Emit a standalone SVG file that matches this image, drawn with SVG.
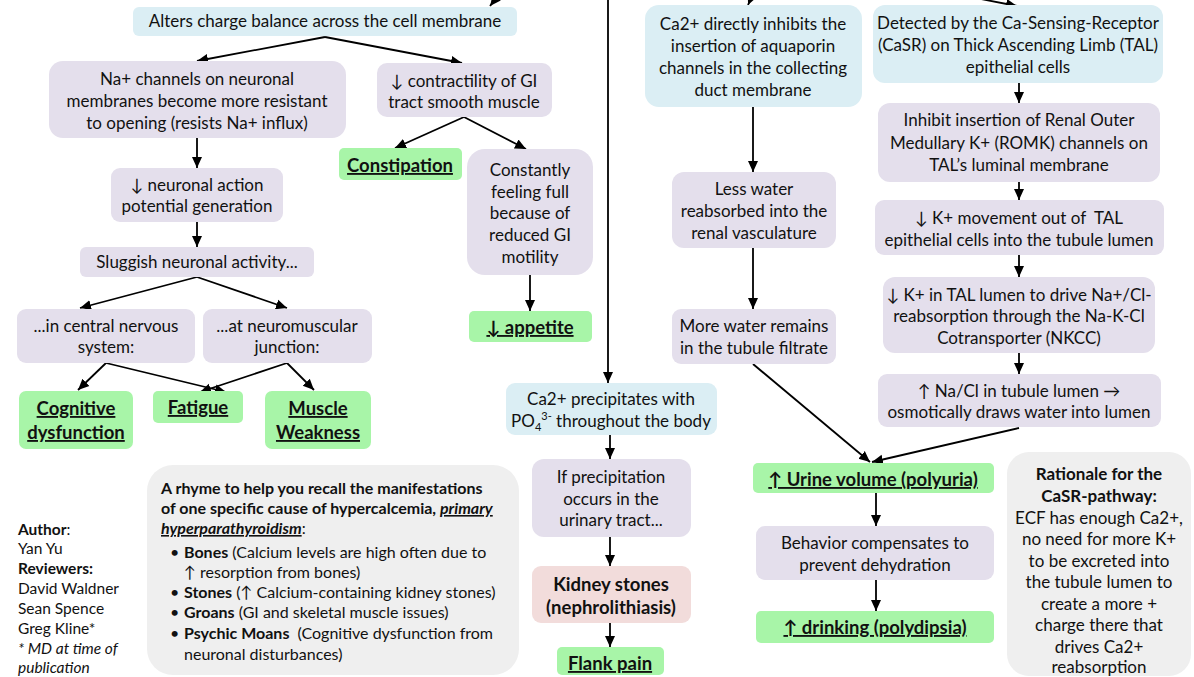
<svg xmlns="http://www.w3.org/2000/svg" width="1194" height="677" viewBox="0 0 1194 677">
<defs>
<marker id="ah" markerUnits="userSpaceOnUse" markerWidth="12" markerHeight="12" viewBox="0 0 12 12" refX="11" refY="6" orient="auto">
<path d="M0,1 L11,6 L0,11 Z" fill="#000"/>
</marker>
<style>
.blue{fill:#dbeef4}
.lav{fill:#e4dfec}
.grn{fill:#a8f5a8}
.pink{fill:#f2dcdb}
.gry{fill:#efefef}
text{font-family:Lato,"Liberation Sans",sans-serif;font-size:17px;fill:#111}
.c{text-anchor:middle}
.b{font-weight:bold;font-size:18.5px}
.u{text-decoration:underline}
.bb{font-weight:bold}
.it{font-style:italic}
.rh{font-size:16px}
.au{font-size:15.5px}
#conn line{stroke:#000;stroke-width:1.8;marker-end:url(#ah)}
</style>
</defs>
<rect width="1194" height="677" fill="#fff"/>

<g id="conn">
<line x1="512" y1="-22" x2="490" y2="6"/>
<line x1="760" y1="-22" x2="748" y2="5"/>
<line x1="950" y1="-7" x2="1017" y2="6"/>
<line x1="325" y1="37" x2="197" y2="61"/>
<line x1="325" y1="37" x2="462" y2="63"/>
<line x1="197" y1="138" x2="197" y2="168"/>
<line x1="464" y1="117" x2="395" y2="148"/>
<line x1="464" y1="117" x2="526" y2="149"/>
<line x1="530" y1="275" x2="530" y2="311"/>
<line x1="197" y1="222" x2="197" y2="247"/>
<line x1="197" y1="277" x2="80" y2="308"/>
<line x1="197" y1="277" x2="287" y2="308"/>
<line x1="106" y1="363" x2="78" y2="390"/>
<line x1="106" y1="363" x2="226" y2="392"/>
<line x1="287" y1="363" x2="200" y2="392"/>
<line x1="287" y1="363" x2="314" y2="390"/>
<line x1="608" y1="-5" x2="608" y2="383"/>
<line x1="610" y1="435" x2="610" y2="459"/>
<line x1="610" y1="537" x2="610" y2="566"/>
<line x1="610" y1="623" x2="610" y2="647"/>
<line x1="753" y1="107" x2="753" y2="172"/>
<line x1="753" y1="248" x2="753" y2="309"/>
<line x1="753" y1="364" x2="870" y2="462"/>
<line x1="1019" y1="428" x2="872" y2="462"/>
<line x1="1019" y1="83" x2="1019" y2="103"/>
<line x1="1019" y1="182" x2="1019" y2="200"/>
<line x1="1019" y1="255" x2="1019" y2="277"/>
<line x1="1019" y1="353" x2="1019" y2="374"/>
<line x1="876" y1="493" x2="876" y2="526"/>
<line x1="876" y1="580" x2="876" y2="611"/>
</g>

<g id="n-alters">
<rect class="blue" x="133" y="7" width="384" height="29" rx="6"/>
<text class="c" x="325" y="27">Alters charge balance across the cell membrane</text>
</g>
<g id="n-na">
<rect class="lav" x="49" y="61" width="297" height="77" rx="14"/>
<text class="c" x="197" y="85">Na+ channels on neuronal</text>
<text class="c" x="197" y="107">membranes become more resistant</text>
<text class="c" x="197" y="129">to opening (resists Na+ influx)</text>
</g>
<g id="n-contract">
<rect class="lav" x="377" y="63" width="175" height="54" rx="10"/>
<text class="c" x="464" y="87">↓ contractility of GI</text>
<text class="c" x="464" y="108">tract smooth muscle</text>
</g>
<g id="n-constipation">
<rect class="grn" x="339" y="148" width="123" height="32" rx="5"/>
<text class="c b u" x="400" y="172">Constipation</text>
</g>
<g id="n-full">
<rect class="lav" x="467" y="149" width="126" height="126" rx="18"/>
<text class="c" x="530" y="176">Constantly</text>
<text class="c" x="530" y="198">feeling full</text>
<text class="c" x="530" y="219">because of</text>
<text class="c" x="530" y="241">reduced GI</text>
<text class="c" x="530" y="263">motility</text>
</g>
<g id="n-appetite">
<rect class="grn" x="469" y="311" width="123" height="31" rx="5"/>
<text class="c b u" x="530" y="334">↓ appetite</text>
</g>
<g id="n-neuronal">
<rect class="lav" x="111" y="168" width="172" height="54" rx="9"/>
<text class="c" x="197" y="191">↓ neuronal action</text>
<text class="c" x="197" y="212">potential generation</text>
</g>
<g id="n-sluggish">
<rect class="lav" x="80" y="247" width="234" height="30" rx="6"/>
<text class="c" x="197" y="268">Sluggish neuronal activity...</text>
</g>
<g id="n-cns">
<rect class="lav" x="17" y="309" width="178" height="54" rx="9"/>
<text class="c" x="106" y="332">...in central nervous</text>
<text class="c" x="106" y="353">system:</text>
</g>
<g id="n-nmj">
<rect class="lav" x="203" y="309" width="169" height="54" rx="9"/>
<text class="c" x="287" y="332">...at neuromuscular</text>
<text class="c" x="287" y="353">junction:</text>
</g>
<g id="n-cognitive">
<rect class="grn" x="19" y="391" width="114" height="58" rx="7"/>
<text class="c b u" x="76" y="415">Cognitive</text>
<text class="c b u" x="76" y="439">dysfunction</text>
</g>
<g id="n-fatigue">
<rect class="grn" x="153" y="391" width="90" height="32" rx="5"/>
<text class="c b u" x="198" y="414">Fatigue</text>
</g>
<g id="n-muscle">
<rect class="grn" x="265" y="391" width="106" height="58" rx="7"/>
<text class="c b u" x="318" y="415">Muscle</text>
<text class="c b u" x="318" y="439">Weakness</text>
</g>

<g id="n-precip">
<rect class="blue" x="506" y="383" width="211" height="52" rx="9"/>
<text class="c" x="611" y="405">Ca2+ precipitates with</text>
<text class="c" x="611" y="427">PO<tspan font-size="11" dy="4">4</tspan><tspan font-size="11" dy="-11">3-</tspan><tspan dy="7"> throughout the body</tspan></text>
</g>
<g id="n-ifprecip">
<rect class="lav" x="532" y="459" width="159" height="78" rx="12"/>
<text class="c" x="611" y="483">If precipitation</text>
<text class="c" x="611" y="505">occurs in the</text>
<text class="c" x="611" y="526">urinary tract...</text>
</g>
<g id="n-stones">
<rect class="pink" x="532" y="566" width="159" height="57" rx="9"/>
<text class="c b" x="611" y="591">Kidney stones</text>
<text class="c b" x="611" y="614">(nephrolithiasis)</text>
</g>
<g id="n-flank">
<rect class="grn" x="557" y="647" width="107" height="28" rx="5"/>
<text class="c b u" x="610" y="670">Flank pain</text>
</g>

<g id="n-aquaporin">
<rect class="blue" x="645" y="5" width="217" height="102" rx="14"/>
<text class="c" x="753" y="30">Ca2+ directly inhibits the</text>
<text class="c" x="753" y="52">insertion of aquaporin</text>
<text class="c" x="753" y="74">channels in the collecting</text>
<text class="c" x="753" y="96">duct membrane</text>
</g>
<g id="n-lesswater">
<rect class="lav" x="672" y="172" width="164" height="76" rx="12"/>
<text class="c" x="754" y="195">Less water</text>
<text class="c" x="754" y="217">reabsorbed into the</text>
<text class="c" x="754" y="239">renal vasculature</text>
</g>
<g id="n-morewater">
<rect class="lav" x="672" y="309" width="164" height="55" rx="9"/>
<text class="c" x="754" y="332">More water remains</text>
<text class="c" x="754" y="354">in the tubule filtrate</text>
</g>

<g id="n-casr">
<rect class="blue" x="873" y="5" width="290" height="78" rx="12"/>
<text class="c" x="1018" y="29">Detected by the Ca-Sensing-Receptor</text>
<text class="c" x="1018" y="51">(CaSR) on Thick Ascending Limb (TAL)</text>
<text class="c" x="1018" y="73">epithelial cells</text>
</g>
<g id="n-romk">
<rect class="lav" x="878" y="103" width="282" height="79" rx="12"/>
<text class="c" x="1019" y="126">Inhibit insertion of Renal Outer</text>
<text class="c" x="1019" y="149">Medullary K+ (ROMK) channels on</text>
<text class="c" x="1019" y="171">TAL’s luminal membrane</text>
</g>
<g id="n-kmove">
<rect class="lav" x="875" y="200" width="289" height="55" rx="9"/>
<text class="c" x="1019" y="224">↓ K+ movement out of&#160; TAL</text>
<text class="c" x="1019" y="246">epithelial cells into the tubule lumen</text>
</g>
<g id="n-klumen">
<rect class="lav" x="883" y="277" width="272" height="76" rx="12"/>
<text class="c" x="1019" y="301">↓ K+ in TAL lumen to drive Na+/Cl-</text>
<text class="c" x="1019" y="322">reabsorption through the Na-K-Cl</text>
<text class="c" x="1019" y="344">Cotransporter (NKCC)</text>
</g>
<g id="n-nacl">
<rect class="lav" x="878" y="374" width="283" height="53" rx="9"/>
<text class="c" x="1019" y="397">↑ Na/Cl in tubule lumen →</text>
<text class="c" x="1019" y="418">osmotically draws water into lumen</text>
</g>

<g id="n-urine">
<rect class="grn" x="753" y="463" width="241" height="30" rx="5"/>
<text class="c b u" x="873" y="486">↑ Urine volume (polyuria)</text>
</g>
<g id="n-behavior">
<rect class="lav" x="756" y="526" width="238" height="54" rx="9"/>
<text class="c" x="875" y="549">Behavior compensates to</text>
<text class="c" x="875" y="571">prevent dehydration</text>
</g>
<g id="n-drinking">
<rect class="grn" x="756" y="611" width="238" height="32" rx="5"/>
<text class="c b u" x="875" y="634">↑ drinking (polydipsia)</text>
</g>

<g id="n-rationale">
<rect class="gry" x="1007" y="452" width="184" height="224" rx="22"/>
<text class="c bb" x="1099" y="480">Rationale for the</text>
<text class="c bb" x="1099" y="502">CaSR-pathway:</text>
<text class="c" x="1099" y="524">ECF has enough Ca2+,</text>
<text class="c" x="1099" y="545">no need for more K+</text>
<text class="c" x="1099" y="567">to be excreted into</text>
<text class="c" x="1099" y="588">the tubule lumen to</text>
<text class="c" x="1099" y="610">create a more +</text>
<text class="c" x="1099" y="631">charge there that</text>
<text class="c" x="1099" y="653">drives Ca2+</text>
<text class="c" x="1099" y="673">reabsorption</text>
</g>

<g id="n-rhyme">
<rect class="gry" x="147" y="465" width="372" height="210" rx="26"/>
<text class="bb rh" x="161" y="494">A rhyme to help you recall the manifestations</text>
<text class="bb rh" x="161" y="514">of one specific cause of hypercalcemia, <tspan class="it u">primary</tspan></text>
<text class="bb rh" x="161" y="534"><tspan class="it u">hyperparathyroidism</tspan><tspan font-weight="normal">:</tspan></text>
<text class="rh" x="170" y="558">•</text>
<text class="rh" x="184" y="558"><tspan class="bb">Bones</tspan> (Calcium levels are high often due to</text>
<text class="rh" x="184" y="578">↑ resorption from bones)</text>
<text class="rh" x="170" y="598">•</text>
<text class="rh" x="184" y="598"><tspan class="bb">Stones</tspan> (↑ Calcium-containing kidney stones)</text>
<text class="rh" x="170" y="618">•</text>
<text class="rh" x="184" y="618"><tspan class="bb">Groans</tspan> (GI and skeletal muscle issues)</text>
<text class="rh" x="170" y="639">•</text>
<text class="rh" x="184" y="639"><tspan class="bb">Psychic Moans</tspan>&#160; (Cognitive dysfunction from</text>
<text class="rh" x="184" y="660">neuronal disturbances)</text>
</g>

<g id="n-author">
<text class="au" x="18" y="535"><tspan font-weight="bold">Author</tspan>:</text>
<text class="au" x="18" y="554">Yan Yu</text>
<text class="au" x="18" y="574" font-weight="bold">Reviewers:</text>
<text class="au" x="18" y="594">David Waldner</text>
<text class="au" x="18" y="614">Sean Spence</text>
<text class="au" x="18" y="634">Greg Kline*</text>
<text class="au" x="18" y="654" font-style="italic">* MD at time of</text>
<text class="au" x="18" y="673" font-style="italic">publication</text>
</g>
</svg>
